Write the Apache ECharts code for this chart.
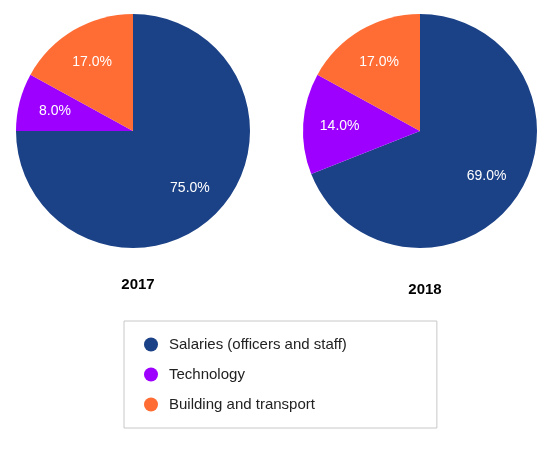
<!DOCTYPE html>
<html><head><meta charset="utf-8">
<script src="https://cdn.jsdelivr.net/npm/echarts@6/dist/echarts.min.js"></script>
<style>html,body{margin:0;padding:0;background:#fff}#c{width:555px;height:467px}</style>
</head><body><div id="c"></div>
<script>
var categories = ['Salaries (officers and staff)', 'Technology', 'Building and transport'];
var values2017 = [75, 8, 17];
var values2018 = [69, 14, 17];
var colors = ['#1b4186', '#9d00ff', '#ff6c34'];

function toData(vals) {
	return categories.map(function (n, i) { return { name: n, value: vals[i] }; });
}
function pieBase(cx, vals) {
	return {
		type: 'pie', center: [cx, 131], radius: [0, 117], startAngle: 90,
		data: toData(vals), label: { show: false }, labelLine: { show: false },
		itemStyle: { borderWidth: 0 }, emphasis: { disabled: true }
	};
}
function pieLabels(cx, vals) {
	return {
		type: 'pie', center: [cx, 131], radius: [38, 117], startAngle: 90, silent: true,
		data: toData(vals), itemStyle: { color: 'rgba(0,0,0,0)' },
		label: { show: true, position: 'inside', color: '#fff', fontSize: 14,
			fontFamily: 'Arial, Liberation Sans', formatter: function (p) { return p.value.toFixed(1) + '%'; } },
		labelLine: { show: false }, emphasis: { disabled: true }
	};
}
var chart = echarts.init(document.getElementById('c'));
chart.setOption({
	animation: false,
	color: colors,
	title: [
		{ text: '2017', left: 133, top: 272, textAlign: 'center', textStyle: { fontSize: 15, fontWeight: 'bold', color: '#000' } },
		{ text: '2018', left: 420, top: 277, textAlign: 'center', textStyle: { fontSize: 15, fontWeight: 'bold', color: '#000' } }
	],
	legend: {
		orient: 'vertical', left: 124, top: 321, width: 288,
		padding: [16, 90, 16, 20], itemGap: 15, itemWidth: 14, itemHeight: 14, icon: 'circle',
		borderColor: '#c8c8c8', borderWidth: 1,
		data: categories,
		textStyle: { fontSize: 15, color: '#222', fontFamily: 'Arial, Liberation Sans', padding: [0, 0, 0, 6] }
	},
	series: [pieBase(133, values2017), pieLabels(133, values2017), pieBase(420, values2018), pieLabels(420, values2018)]
});
</script></body></html>
